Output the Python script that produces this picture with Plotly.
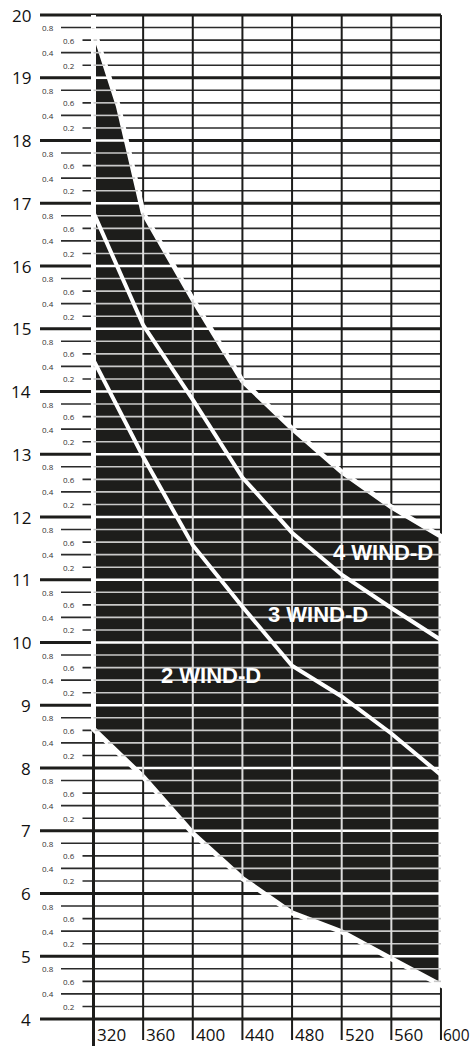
import numpy as np
import plotly.graph_objects as go

# ---------------- data ----------------
x_ticks = [320, 360, 400, 440, 480, 520, 560, 600]
x_tick_labels = ["320", "360", "400", "440", "480", "520", "560", "600"]
y_major = list(range(4, 21))
y_minor_fracs = [0.2, 0.4, 0.6, 0.8]

upper_x = [320, 340, 360, 400, 440, 480, 520, 560, 600]
upper_y = [19.78, 18.55, 16.85, 15.47, 14.17, 13.41, 12.72, 12.16, 11.69]

lower_x = [320, 360, 400, 440, 480, 520, 560, 600]
lower_y = [8.62, 7.86, 6.96, 6.24, 5.69, 5.39, 4.96, 4.54]

wind3_x = [320, 360, 400, 440, 480, 520, 560, 600]
wind3_y = [16.85, 15.06, 13.87, 12.63, 11.75, 11.08, 10.55, 10.04]

wind2_x = [320, 360, 400, 440, 480, 520, 560, 600]
wind2_y = [14.50, 12.96, 11.55, 10.57, 9.63, 9.14, 8.55, 7.89]

wind_labels = ["4 WIND-D", "3 WIND-D", "2 WIND-D"]

# ---------------- layout geometry ----------------
W, H = 471, 1046
X0_PX, X_SCALE = 93.5, 1.241     # pixel of x=320, px per unit
Y20_PX, Y_SCALE = 15.0, 62.75    # pixel of y=20, px per unit
x_min = 320 - X0_PX / X_SCALE
x_max = 320 + (W - X0_PX) / X_SCALE
y_max = 20 + Y20_PX / Y_SCALE
y_min = 20 - (H - Y20_PX) / Y_SCALE


def px_to_x(px):
    return x_min + px / X_SCALE


def py_to_y(py):
    return y_max - py / Y_SCALE


DARK = "#1d1d1b"
xs_lo, xs_hi = x_ticks[0], x_ticks[-1]
ys_top = max(y_major)

fig = go.Figure()
shapes = []

# black horizontal grid (below traces)
for v in y_major:
    shapes.append(dict(type="line", xref="x", yref="y", layer="below",
                       x0=px_to_x(40), x1=xs_hi, y0=v, y1=v,
                       line=dict(color=DARK, width=3)))
    if v < ys_top:
        for f in y_minor_fracs:
            start = 61 if f in (0.8, 0.4) else 82.5
            shapes.append(dict(type="line", xref="x", yref="y", layer="below",
                               x0=px_to_x(start), x1=xs_hi, y0=v + f, y1=v + f,
                               line=dict(color="#2a2a2a", width=1.6)))

# black vertical grid
for i, xv in enumerate(x_ticks):
    if i == 0:
        shapes.append(dict(type="line", xref="x", yref="y", layer="below",
                           x0=xv, x1=xv, y0=y_min, y1=ys_top,
                           line=dict(color=DARK, width=3)))
    else:
        shapes.append(dict(type="line", xref="x", yref="y", layer="below",
                           x0=xv, x1=xv, y0=py_to_y(1040), y1=ys_top,
                           line=dict(color=DARK, width=2)))

# dark filled region
poly_x = list(upper_x) + list(lower_x[::-1]) + [upper_x[0]]
poly_y = list(upper_y) + list(lower_y[::-1]) + [upper_y[0]]
fig.add_trace(go.Scatter(x=poly_x, y=poly_y, mode="lines", fill="toself",
                         fillcolor=DARK, line=dict(color="white", width=5),
                         hoverinfo="skip", showlegend=False))

# white gap above region at x=320
fig.add_trace(go.Scatter(x=[xs_lo, xs_lo], y=[upper_y[0], ys_top], mode="lines",
                         line=dict(color="white", width=5), hoverinfo="skip",
                         showlegend=False))

# white grid inside region
lo_y_rev = np.array(lower_y[::-1]); lo_x_rev = np.array(lower_x[::-1])
up_y_rev = np.array(upper_y[::-1]); up_x_rev = np.array(upper_x[::-1])


def h_segment(c):
    if c < lower_y[-1] or c > upper_y[0]:
        return None
    xl = float(np.interp(c, lo_y_rev, lo_x_rev))
    xr = float(np.interp(c, up_y_rev, up_x_rev))
    if xl >= xr:
        return None
    return xl, xr


maj_x, maj_y, min_x, min_y = [], [], [], []
for v in y_major:
    seg = h_segment(v)
    if seg:
        maj_x += [seg[0], seg[1], None]; maj_y += [v, v, None]
    if v < ys_top:
        for f in y_minor_fracs:
            seg = h_segment(v + f)
            if seg:
                min_x += [seg[0], seg[1], None]; min_y += [v + f, v + f, None]

ver_x, ver_y = [], []
for xv in x_ticks[1:-1]:
    lo = float(np.interp(xv, lower_x, lower_y))
    hi = float(np.interp(xv, upper_x, upper_y))
    ver_x += [xv, xv, None]; ver_y += [lo, hi, None]

fig.add_trace(go.Scatter(x=min_x, y=min_y, mode="lines",
                         line=dict(color="#c9c9c9", width=1.6),
                         hoverinfo="skip", showlegend=False))
fig.add_trace(go.Scatter(x=maj_x, y=maj_y, mode="lines",
                         line=dict(color="white", width=2.6),
                         hoverinfo="skip", showlegend=False))
fig.add_trace(go.Scatter(x=ver_x, y=ver_y, mode="lines",
                         line=dict(color="#dcdcdc", width=2),
                         hoverinfo="skip", showlegend=False))

# wind curves
for cx, cy in ((wind3_x, wind3_y), (wind2_x, wind2_y)):
    fig.add_trace(go.Scatter(x=cx, y=cy, mode="lines",
                             line=dict(color="white", width=4),
                             hoverinfo="skip", showlegend=False))

annotations = []
# wind labels
label_pos = [(553.0, 11.44), (500.9, 10.44), (414.7, 9.47)]
for txt, (lx, ly) in zip(wind_labels, label_pos):
    annotations.append(dict(x=lx, y=ly, xref="x", yref="y", text=txt,
                            showarrow=False, xanchor="center", yanchor="middle",
                            font=dict(family="Liberation Sans", size=22,
                                      color="white", weight="bold")))

# y labels
for v in y_major:
    annotations.append(dict(x=33 / W, y=v, xref="paper", yref="y", text=str(v),
                            showarrow=False, xanchor="right", yanchor="middle",
                            font=dict(family="Open Sans", size=17, color="#111")))
    if v < ys_top:
        for f in y_minor_fracs:
            lx = 40 if f in (0.8, 0.4) else 60.5
            annotations.append(dict(x=lx / W, y=v + f, xref="paper", yref="y",
                                    text=f"{f:.1f}", showarrow=False,
                                    xanchor="left", yanchor="middle",
                                    font=dict(family="Open Sans", size=8,
                                              color="#333")))

# x labels
for i, (xv, t) in enumerate(zip(x_ticks, x_tick_labels)):
    last = i == len(x_ticks) - 1
    annotations.append(dict(x=xv, y=0, xref="x", yref="paper",
                            text=t, showarrow=False, xanchor="left",
                            yanchor="bottom", xshift=1 if last else 2,
                            yshift=-1, borderpad=0,
                            font=dict(family="Open Sans", size=15.5 if last else 17,
                                      color="#111")))

fig.update_layout(
    width=W, height=H,
    margin=dict(l=0, r=0, t=0, b=0),
    paper_bgcolor="white", plot_bgcolor="white",
    xaxis=dict(range=[x_min, x_max], visible=False, fixedrange=True),
    yaxis=dict(range=[y_min, y_max], visible=False, fixedrange=True),
    shapes=shapes, annotations=annotations, showlegend=False,
)

fig.write_html("out.html",
               config={"displayModeBar": False},
               post_script="document.body.style.margin='0';"
                           "document.body.style.overflow='hidden';")
